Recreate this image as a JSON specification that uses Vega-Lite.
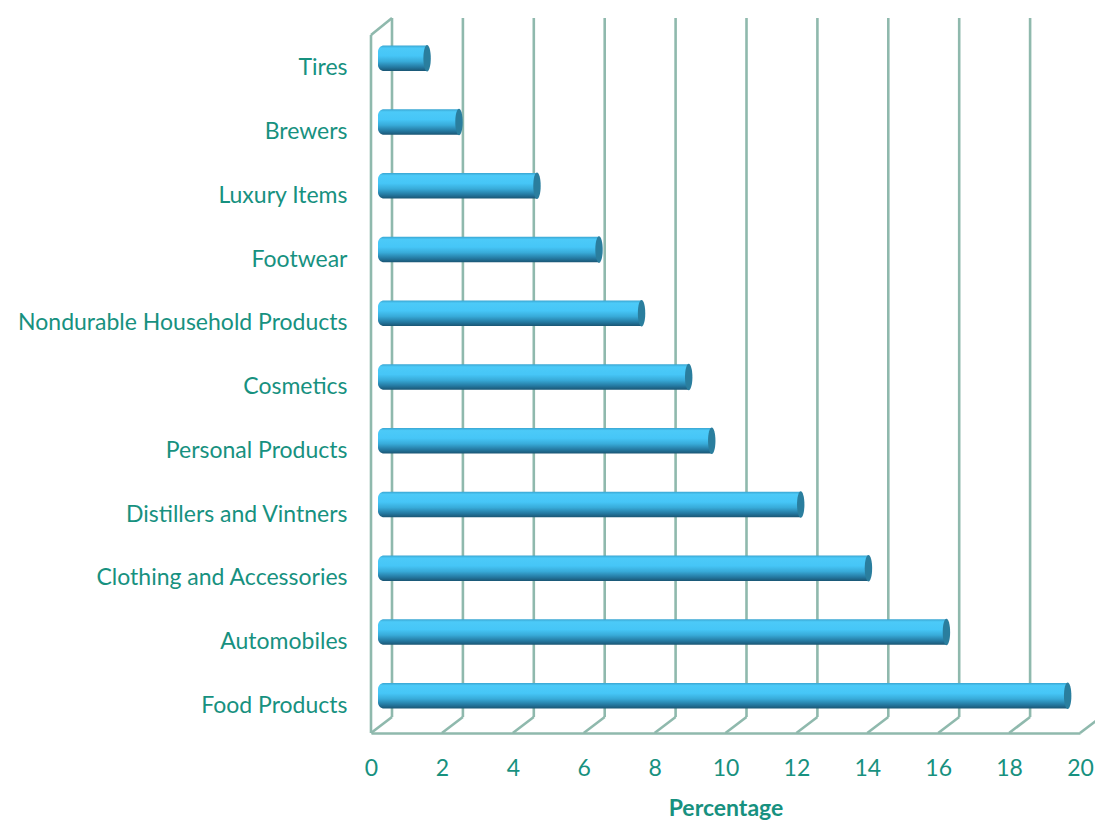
{
  "$schema": "https://vega.github.io/schema/vega-lite/v6.json",
  "autosize": {"type": "none"},
  "padding": {"left": 371, "top": 18, "right": 15, "bottom": 88},
  "width": 709,
  "height": 715,
  "background": "white",
  "config": {"view": {"stroke": null}, "font": "Lato"},
  "datasets": {
    "bars": [
      {"category": "Tires", "value": 1.3},
      {"category": "Brewers", "value": 2.2},
      {"category": "Luxury Items", "value": 4.4},
      {"category": "Footwear", "value": 6.15},
      {"category": "Nondurable Household Products", "value": 7.35},
      {"category": "Cosmetics", "value": 8.68},
      {"category": "Personal Products", "value": 9.33},
      {"category": "Distillers and Vintners", "value": 11.84},
      {"category": "Clothing and Accessories", "value": 13.75},
      {"category": "Automobiles", "value": 15.95},
      {"category": "Food Products", "value": 19.37}
    ],
    "ticks": [
      {"v": 0}, {"v": 2}, {"v": 4}, {"v": 6}, {"v": 8}, {"v": 10},
      {"v": 12}, {"v": 14}, {"v": 16}, {"v": 18}, {"v": 20}
    ]
  },
  "layer": [
    {
      "data": {"name": "ticks"},
      "mark": {"type": "rule", "color": "#8fb9ad", "strokeWidth": 2.6, "xOffset": 21, "y2Offset": -16},
      "encoding": {
        "x": {"field": "v", "type": "quantitative", "scale": {"domain": [0, 20]}},
        "y": {"value": 0},
        "y2": {"value": "height"}
      }
    },
    {
      "data": {"name": "ticks"},
      "mark": {"type": "rule", "color": "#8fb9ad", "strokeWidth": 2.6, "x2Offset": 21, "y2Offset": -16},
      "encoding": {
        "x": {"field": "v", "type": "quantitative"},
        "x2": {"field": "v"},
        "y": {"value": "height"},
        "y2": {"value": "height"}
      }
    },
    {
      "data": {"values": [{"v": 0}]},
      "mark": {"type": "rule", "color": "#8fb9ad", "strokeWidth": 2.6, "yOffset": 17},
      "encoding": {
        "x": {"field": "v", "type": "quantitative"},
        "y": {"value": 0},
        "y2": {"value": "height"}
      }
    },
    {
      "data": {"values": [{"v": 0}]},
      "mark": {"type": "rule", "color": "#8fb9ad", "strokeWidth": 2.6, "yOffset": 17, "x2Offset": 21},
      "encoding": {
        "x": {"field": "v", "type": "quantitative"},
        "x2": {"field": "v"},
        "y": {"value": 0},
        "y2": {"value": 0}
      }
    },
    {
      "data": {"name": "bars"},
      "mark": {
        "type": "bar",
        "xOffset": 10,
        "x2Offset": 7,
        "cornerRadiusTopLeft": 6,
        "cornerRadiusBottomLeft": 6,
        "color": {
          "gradient": "linear",
          "x1": 0, "y1": 0, "x2": 0, "y2": 1,
          "stops": [
            {"offset": 0, "color": "#3aa6d2"},
            {"offset": 0.1, "color": "#4ccaf8"},
            {"offset": 0.4, "color": "#46c6f7"},
            {"offset": 0.62, "color": "#38abd9"},
            {"offset": 0.85, "color": "#2478a0"},
            {"offset": 1, "color": "#1a5573"}
          ]
        }
      },
      "encoding": {
        "y": {
          "field": "category",
          "type": "nominal",
          "sort": null,
          "scale": {"paddingInner": 0.6, "paddingOuter": 0.408, "align": 0.53},
          "axis": {
            "title": null,
            "domain": false,
            "ticks": false,
            "labelPadding": 24,
            "labelLimit": 400,
            "labelOffset": 10,
            "labelFontSize": 23,
            "labelColor": "#17917f",
            "labelFont": "Lato"
          }
        },
        "x": {
          "field": "value",
          "type": "quantitative",
          "scale": {"domain": [0, 20]},
          "axis": {
            "title": "Percentage",
            "values": [0, 2, 4, 6, 8, 10, 12, 14, 16, 18, 20],
            "grid": false,
            "ticks": false,
            "domainColor": "#8fb9ad",
            "domainWidth": 2.6,
            "labelPadding": 24,
            "labelFontSize": 23,
            "labelColor": "#17917f",
            "labelFont": "Lato",
            "labelFlush": false,
            "titleFontSize": 23,
            "titleFontWeight": "bold",
            "titleColor": "#17917f",
            "titleFont": "Lato",
            "titlePadding": 17
          }
        },
        "x2": {"datum": 0}
      }
    },
    {
      "data": {"name": "bars"},
      "mark": {
        "type": "point",
        "filled": true,
        "xOffset": 10,
        "size": 700,
        "opacity": 1,
        "color": "#2a7e9e",
        "shape": "M 0 -1 A 0.28 1 0 1 1 0 1 A 0.28 1 0 1 1 0 -1 Z"
      },
      "encoding": {
        "y": {"field": "category", "type": "nominal", "sort": null},
        "x": {"field": "value", "type": "quantitative"}
      }
    }
  ]
}
